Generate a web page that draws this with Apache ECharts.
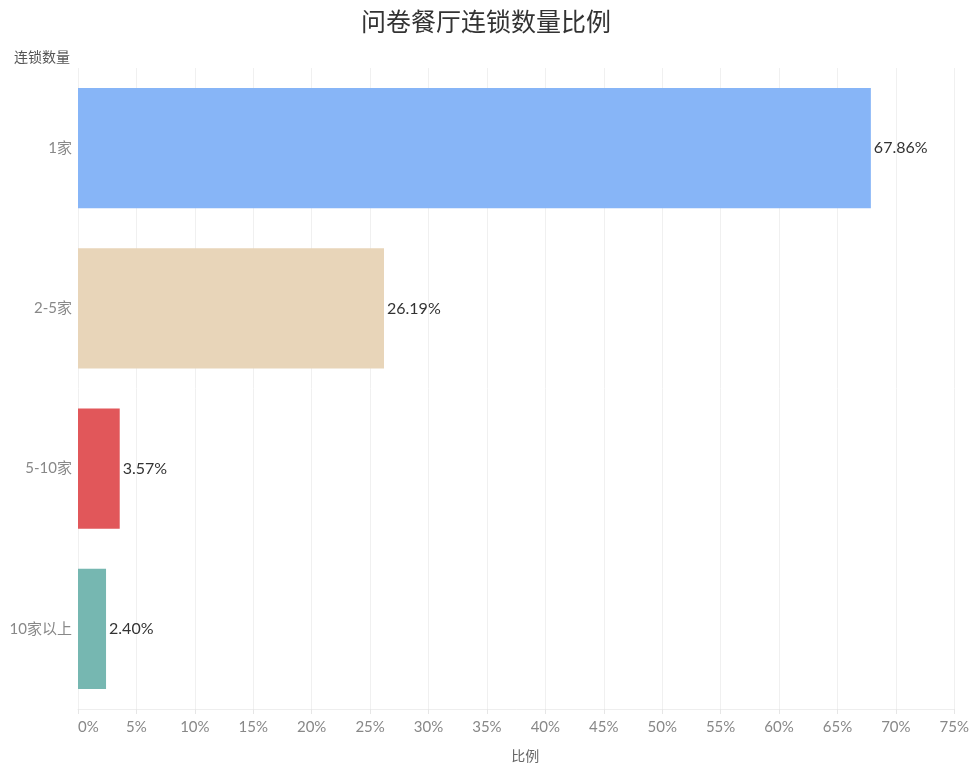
<!DOCTYPE html>
<html><head><meta charset="utf-8">
<script src="https://cdn.jsdelivr.net/npm/echarts@6/dist/echarts.min.js"></script>
<style>html,body{margin:0;padding:0;background:#fff}#c{width:972px;height:768px}</style>
</head><body><div id="c"></div>
<script>
var categories = ['1家', '2-5家', '5-10家', '10家以上'];
var values = [67.86, 26.19, 3.57, 2.40];
var colors = ['#87B5F7', '#E8D5B9', '#E1575A', '#76B7B1'];
var xTicks = [0, 5, 10, 15, 20, 25, 30, 35, 40, 45, 50, 55, 60, 65, 70, 75];

var chart = echarts.init(document.getElementById('c'));
chart.setOption({
  backgroundColor: '#fff',
  animation: false,
  title: {
    text: '问卷餐厅连锁数量比例', left: 'center', top: 4,
    textStyle: { fontFamily: 'Noto Sans CJK SC', fontSize: 25, fontWeight: 'normal', color: '#333' }
  },
  grid: { left: 78, right: 17, top: 68, bottom: 57, containLabel: false },
  xAxis: {
    type: 'value', min: xTicks[0], max: xTicks[xTicks.length - 1], interval: 5,
    name: '比例', nameLocation: 'middle', nameGap: 40,
    nameTextStyle: { fontFamily: 'Noto Sans CJK SC', fontSize: 14, color: '#666', padding: [0, 0, 0, 18] },
    axisLine: { show: true, lineStyle: { color: '#eeeeee' } },
    axisTick: { show: true, length: 5, lineStyle: { color: '#e6e6e6' } },
    axisLabel: { fontFamily: 'Lato', fontSize: 15, color: '#888', margin: 11, alignMinLabel: 'left',
      formatter: function (v) { return v + '%'; } },
    splitLine: { show: true, lineStyle: { color: '#f0f0f0' } }
  },
  yAxis: {
    type: 'category', data: categories, inverse: true,
    name: '连锁数量', nameLocation: 'start', nameGap: 4,
    nameTextStyle: { fontFamily: 'Noto Sans CJK SC', fontSize: 14, color: '#555', align: 'center', padding: [0, 0, 0, -72] },
    axisLine: { show: false }, axisTick: { show: false },
    axisLabel: { fontFamily: 'Lato, Noto Sans CJK SC', fontSize: 15, color: '#888', margin: 6 },
    splitLine: { show: false }
  },
  series: [{
    type: 'bar',
    data: values.map(function (v, i) { return { value: v, itemStyle: { color: colors[i] } }; }),
    barCategoryGap: '25%',
    label: {
      show: true, position: 'right', distance: 3,
      fontFamily: 'Lato', fontSize: 16, color: '#333',
      formatter: function (p) { return p.value.toFixed(2) + '%'; }
    }
  }]
});
</script></body></html>
